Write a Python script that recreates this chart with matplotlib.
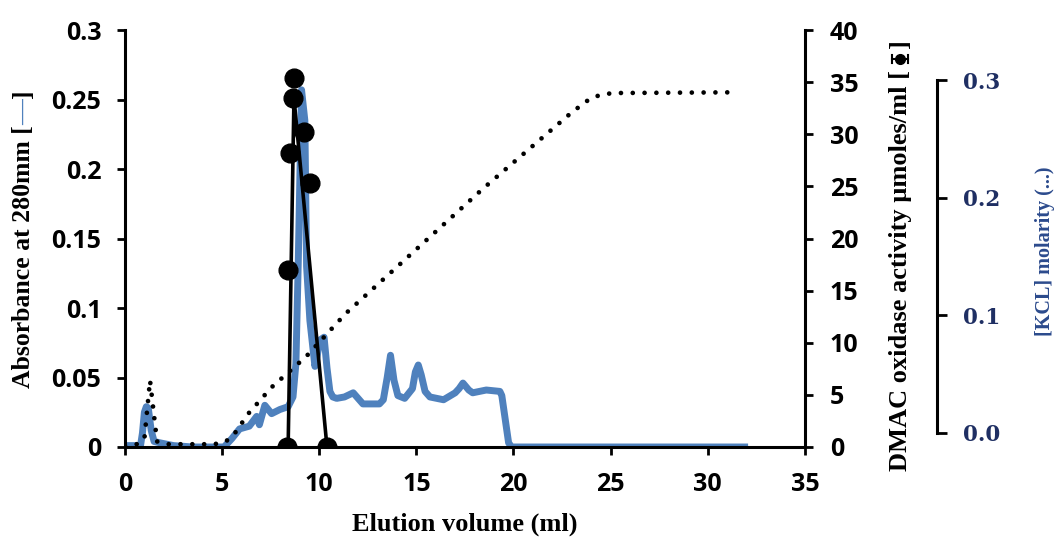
import matplotlib
matplotlib.use('Agg')
import matplotlib.pyplot as plt
from matplotlib.lines import Line2D

# absorbance at 280 nm (left axis)
absorb_x = [0, 0.8, 0.9, 1.0, 1.1, 1.2, 1.35, 1.5, 1.8, 2.5, 3.5, 5.1,
            5.5, 5.9, 6.4, 6.78, 6.92, 7.2, 7.55, 7.98, 8.4, 8.65,
            8.8, 8.92, 9.09, 9.26, 9.35, 9.52, 9.78, 9.9, 10.04, 10.25, 10.4, 10.55, 10.7,
            10.9, 11.3, 11.75, 12.25, 13.1, 13.3, 13.5, 13.67, 13.85, 14.05, 14.4,
            14.8, 14.95, 15.1, 15.25, 15.45, 15.7, 16.4, 17.0, 17.2, 17.4, 17.7, 17.9,
            18.6, 19.3, 19.4, 19.75, 19.9, 31.9]
absorb_y = [0.001, 0.001, 0.010, 0.025, 0.029, 0.028, 0.012, 0.004, 0.003, 0.001, 0.0, 0.0,
            0.006, 0.013, 0.015, 0.022, 0.016, 0.030, 0.024, 0.027, 0.029, 0.036,
            0.06, 0.132, 0.257, 0.235, 0.130, 0.091, 0.058, 0.066, 0.077, 0.079, 0.057, 0.040, 0.036,
            0.035, 0.036, 0.039, 0.031, 0.031, 0.034, 0.050, 0.066, 0.048, 0.037, 0.035,
            0.042, 0.054, 0.059, 0.052, 0.040, 0.036, 0.034, 0.039, 0.042, 0.046, 0.041, 0.039,
            0.041, 0.040, 0.037, 0.003, 0.0, 0.0]

# KCl gradient (drawn against the left axis scale)
kcl_x = [0, 0.6, 1.0, 1.29, 1.65, 2.2, 4.6, 5.2, 5.66, 6.35,
         7.55, 9.32, 11.36, 18.44, 23.02, 23.98, 24.57, 25.17, 31.25]
kcl_y = [0.001, 0.002, 0.006, 0.048, 0.004, 0.002, 0.002, 0.004, 0.010, 0.024,
         0.043, 0.065, 0.096, 0.186, 0.241, 0.251, 0.2537, 0.2547, 0.2552]

# DMAC oxidase activity (right axis)
act_x = [8.35, 8.4, 8.5, 8.66, 8.7, 9.23, 9.52, 10.38]
act_y = [0, 17.0, 28.2, 33.5, 35.4, 30.2, 25.3, 0]
act_line_x = [8.4, 8.7, 10.4]
act_line_y = [0, 33.5, 0]

x_ticks = [0, 5, 10, 15, 20, 25, 30, 35]
left_ticks = [0, 0.05, 0.1, 0.15, 0.2, 0.25, 0.3]
left_labels = ['0', '0.05', '0.1', '0.15', '0.2', '0.25', '0.3']
right_ticks = [0, 5, 10, 15, 20, 25, 30, 35, 40]
kcl_ticks = [0.0, 0.1, 0.2, 0.3]
kcl_labels = ['0.0', '0.1', '0.2', '0.3']

BLUE = '#4F81BD'
NAVY = '#1F2F63'
SERIF = ['Liberation Serif', 'DejaVu Serif']

plt.rcParams['font.family'] = ['Open Sans', 'DejaVu Sans']
plt.rcParams['font.weight'] = 'bold'


def stacked_label(fig, x, yc, parts, **kw):
    """rotated label built from pieces so each piece can have its own colour"""
    r = fig.canvas.get_renderer()
    texts = [fig.text(x, 0, s, color=c, rotation=90, ha='center', va='bottom', **kw)
             for s, c in parts]
    sizes = [t.get_window_extent(r).height / fig.bbox.height for t in texts]
    y = yc - sum(sizes) / 2
    for t, h in zip(texts, sizes):
        t.set_y(y)
        y += h
    return texts


def style_axis(a, lw=2.2):
    for s in a.spines.values():
        s.set_linewidth(lw)
    a.tick_params(width=2, length=6, labelsize=18, direction='out', pad=11)


fig = plt.figure(figsize=(10.59, 5.37), dpi=100)
ax = fig.add_axes([0.118, 0.1676, 0.642, 0.7764])
ax2 = ax.twinx()

ax.plot(absorb_x, absorb_y, color=BLUE, lw=5, solid_joinstyle='round', zorder=2)
ax.plot(kcl_x, kcl_y, color='black', lw=3.4, linestyle=(0, (0.001, 2.5)),
        dash_capstyle='round', zorder=3)
ax2.plot(act_line_x, act_line_y, color='black', lw=2.6, zorder=4)
ax2.plot(act_x, act_y, 'o', color='black', markersize=13.5, zorder=5)

ax.set_xlim(0, 35)
ax.set_ylim(0, 0.3)
ax2.set_ylim(0, 40)
ax.set_xticks(x_ticks)
ax.set_yticks(left_ticks)
ax.set_yticklabels(left_labels)
ax2.set_yticks(right_ticks)

for a in (ax, ax2):
    a.spines['top'].set_visible(False)
    style_axis(a)
    for lbl in a.get_xticklabels() + a.get_yticklabels():
        lbl.set_fontweight('bold')
ax.spines['right'].set_visible(False)
ax2.spines['left'].set_visible(False)
ax2.spines['bottom'].set_visible(False)
ax.tick_params(axis='x', pad=12)
ax2.tick_params(axis='y', pad=12)

# third axis for the KCl molarity scale
ax3 = fig.add_axes([0.8748, 0.1937, 0.01, 0.6573])
for side in ('left', 'top', 'bottom'):
    ax3.spines[side].set_visible(False)
ax3.spines['right'].set_linewidth(2.2)
ax3.set_xticks([])
ax3.patch.set_visible(False)
ax3.yaxis.tick_right()
ax3.set_ylim(0, 0.3)
ax3.set_yticks(kcl_ticks)
ax3.set_yticklabels(kcl_labels, family=['DejaVu Serif'], fontsize=15.5,
                    fontweight='bold', color=NAVY)
ax3.tick_params(axis='y', width=2, length=7, pad=12)

fig.text(0.439, 0.024, 'Elution volume (ml)', family=SERIF, fontsize=19,
         fontweight='bold', ha='center', va='center')

stacked_label(fig, 0.022, 0.555,
              [('Absorbance at 280mm [', 'black'), ('\u2014', BLUE), (']', 'black')],
              family=SERIF, fontsize=18.5, fontweight='bold')

rtexts = stacked_label(fig, 0.850, 0.525,
                       [('DMAC oxidase activity \u00b5moles/ml [', 'black'),
                        ('\u03a6', 'none'), (']', 'black')],
                       family=SERIF, fontsize=19, fontweight='bold')

# filled circle with error bar inside the brackets of the right label
bb = rtexts[1].get_window_extent(fig.canvas.get_renderer())
cx = (bb.x0 + bb.x1) / 2 / fig.bbox.width
cy = (bb.y0 + bb.y1) / 2 / fig.bbox.height
dx = 8 / fig.bbox.width
dy = 4 / fig.bbox.height
fig.add_artist(Line2D([cx - dx, cx + dx], [cy, cy], color='black', lw=1.5,
                      transform=fig.transFigure))
for e in (cx - dx, cx + dx):
    fig.add_artist(Line2D([e, e], [cy - dy, cy + dy], color='black', lw=1.5,
                          transform=fig.transFigure))
fig.add_artist(Line2D([cx], [cy], marker='o', markersize=7, color='black',
                      transform=fig.transFigure))

fig.text(0.987, 0.532, '[KCL] molarity (...)', family=SERIF, fontsize=14.5,
         color='#2B4A8C', rotation=90, ha='center', va='center')

fig.savefig('out.png', dpi=100)
